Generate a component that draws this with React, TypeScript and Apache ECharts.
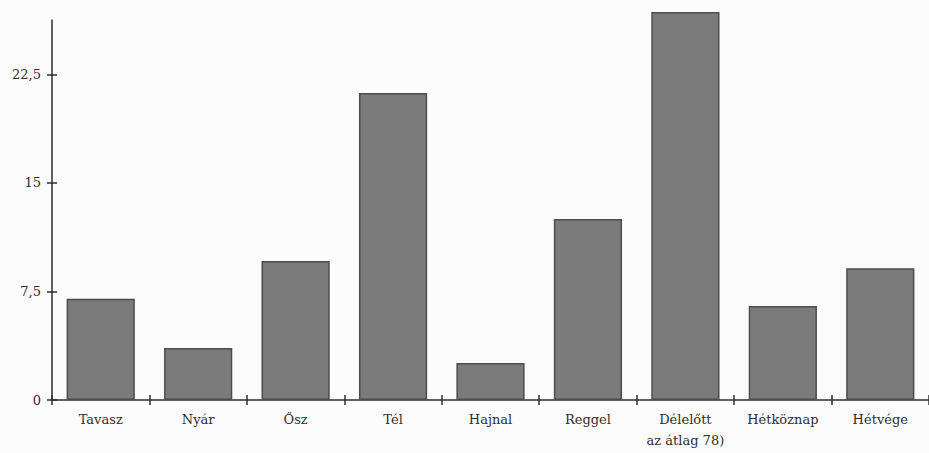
import React, { useEffect, useRef } from "react";
import * as echarts from "echarts";

const categories = ["Tavasz", "Nyár", "Ősz", "Tél", "Hajnal", "Reggel", "Délelőtt\naz átlag 78)", "Hétköznap", "Hétvége"];
const values = [7.0, 3.6, 9.6, 21.2, 2.55, 12.5, 26.8, 6.5, 9.1];
const yTicks = [0, 7.5, 15, 22.5];

export default function App() {
  const ref = useRef<HTMLDivElement>(null);
  useEffect(() => {
    if (!ref.current) return;
    const chart = echarts.init(ref.current, null, { renderer: "svg" });
    const font = "DejaVu Serif";
    const ink = "#2e2e2e";
    chart.setOption({
      animation: false,
      backgroundColor: "#fbfbfb",
      textStyle: { fontFamily: font },
      grid: { left: 52, right: 0, top: 20, bottom: 53 },
      xAxis: [
        {
          type: "category",
          data: categories,
          position: "bottom",
          boundaryGap: true,
          axisLine: { lineStyle: { color: ink, width: 1.5 } },
          axisTick: { show: true, interval: 0, length: 5, lineStyle: { color: ink, width: 1.5 } },
          axisLabel: { interval: 0, color: ink, fontFamily: font, fontSize: 13, margin: 9, lineHeight: 21 },
        },
        {
          type: "category",
          data: categories,
          position: "bottom",
          boundaryGap: true,
          axisLine: { show: false },
          axisTick: { show: true, interval: 0, inside: true, length: 5, lineStyle: { color: ink, width: 1.5 } },
          axisLabel: { show: false },
        },
      ],
      yAxis: [
        {
          type: "value",
          min: 0,
          max: 26.25,
          interval: 7.5,
          splitLine: { show: false },
          axisLine: { show: true, lineStyle: { color: ink, width: 1.5 } },
          axisTick: { show: true, length: 5, customValues: yTicks, lineStyle: { color: ink, width: 1.5 } },
          axisLabel: {
            color: ink,
            fontFamily: font,
            fontSize: 13,
            margin: 11,
            customValues: yTicks,
            formatter: (v: number) => String(v).replace(".", ","),
          },
        },
        {
          type: "value",
          min: 0,
          max: 26.25,
          interval: 7.5,
          position: "left",
          splitLine: { show: false },
          axisLine: { show: false },
          axisTick: { show: true, inside: true, length: 5, customValues: yTicks, lineStyle: { color: ink, width: 1.5 } },
          axisLabel: { show: false },
        },
      ],
      series: [
        {
          type: "bar",
          data: values,
          xAxisIndex: 0,
          yAxisIndex: 0,
          barWidth: "70%",
          clip: false,
          itemStyle: { color: "#7b7b7b", borderColor: "#4d4d4d", borderWidth: 1.5 },
        },
      ],
    });
    return () => chart.dispose();
  }, []);
  return <div ref={ref} style={{ width: 929, height: 453, position: "absolute", left: 0, top: 0 }} />;
}
